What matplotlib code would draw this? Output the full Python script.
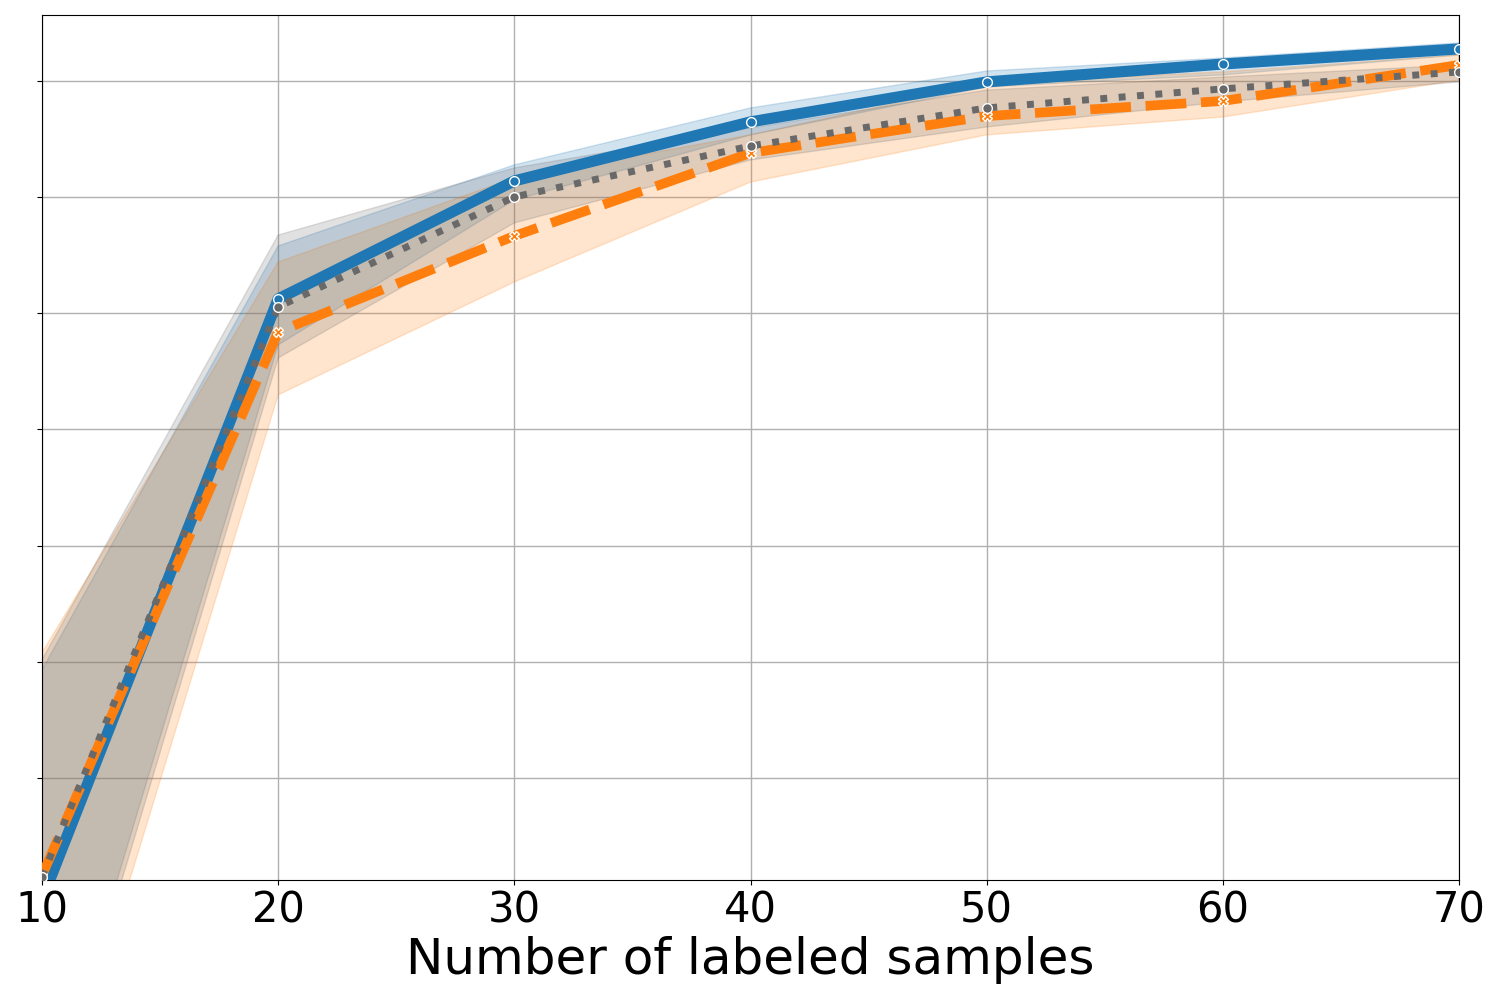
import matplotlib
matplotlib.use("Agg")
import matplotlib.pyplot as plt
import numpy as np

x = [10, 20, 30, 40, 50, 60, 70]

blue_mean = [0.5476, 0.8062, 0.8570, 0.8824, 0.8996, 0.9073, 0.9138]
blue_lo = [0.4486, 0.7864, 0.8488, 0.8768, 0.8974, 0.9026, 0.9112]
blue_hi = [0.6466, 0.8290, 0.8639, 0.8884, 0.9043, 0.9099, 0.9164]

orange_mean = [0.5580, 0.7920, 0.8333, 0.8690, 0.8849, 0.8914, 0.9069]
orange_lo = [0.4327, 0.7649, 0.8135, 0.8565, 0.8768, 0.8845, 0.9004]
orange_hi = [0.6539, 0.8221, 0.8583, 0.8768, 0.8991, 0.9039, 0.9112]

gray_mean = [0.5575, 0.8028, 0.8501, 0.8720, 0.8884, 0.8966, 0.9039]
gray_lo = [0.4413, 0.7808, 0.8389, 0.8660, 0.8802, 0.8910, 0.8996]
gray_hi = [0.6509, 0.8337, 0.8626, 0.8798, 0.8961, 0.9017, 0.9069]

y_ticks = [0.60, 0.65, 0.70, 0.75, 0.80, 0.85, 0.90]

fig = plt.figure(figsize=(15, 10), dpi=100)
ax = fig.add_axes([0.028, 0.12, 0.9447, 0.865])

blue = "#1f77b4"
orange = "#ff7f0e"
gray = "dimgray"

ax.fill_between(x, blue_lo, blue_hi, color=blue, alpha=0.2, zorder=2)
ax.fill_between(x, orange_lo, orange_hi, color=orange, alpha=0.2, zorder=2)
ax.fill_between(x, gray_lo, gray_hi, color=gray, alpha=0.2, zorder=2)

ax.plot(x, blue_mean, color=blue, lw=8, marker="o", ms=7,
        markeredgecolor="white", markeredgewidth=1, zorder=3)
l2, = ax.plot(x, orange_mean, color=orange, lw=7, marker="X", ms=7,
              markeredgecolor="white", markeredgewidth=1, zorder=4)
l2.set_dashes((4.2, 1.5))
ax.plot(x, gray_mean, color=gray, lw=5, ls=":", marker="o", ms=7,
        markeredgecolor="white", markeredgewidth=1, zorder=5)

ax.set_xlim(10, 70)
ax.set_ylim(0.5561, 0.9284)
ax.set_xticks([10, 20, 30, 40, 50, 60, 70])
ax.set_yticks(y_ticks)
ax.set_yticklabels([])
ax.tick_params(axis="x", labelsize=30)
ax.grid(True, color="#b0b0b0", lw=1, zorder=0)
ax.set_axisbelow(True)
ax.set_xlabel("Number of labeled samples", fontsize=36, labelpad=3)

fig.savefig("out.png", dpi=100)
